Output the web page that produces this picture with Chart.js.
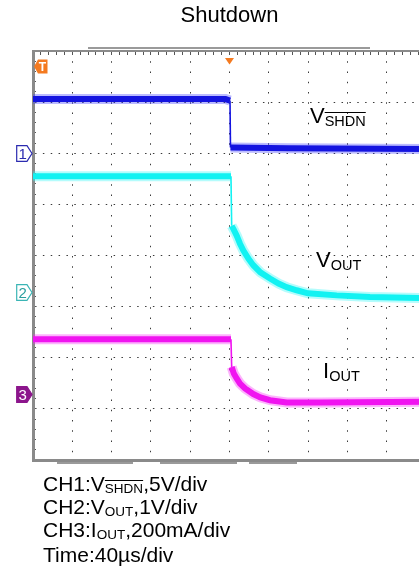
<!DOCTYPE html>
<html>
<head>
<meta charset="utf-8">
<script src="https://cdn.jsdelivr.net/npm/chart.js@4.4.1/dist/chart.umd.min.js"></script>
<style>
  html, body { margin: 0; padding: 0; background: #fff; overflow: hidden; }
  body { width: 419px; height: 572px; position: relative; font-family: "Liberation Sans", Arial, sans-serif; color: #000; }
  #wrap { position: absolute; left: 0; top: 0; width: 460px; height: 470px; }
  .lbl { position: absolute; font-size: 22px; line-height: 22px; white-space: nowrap; }
  .lbl sub { font-size: 14.5px; line-height: 0; vertical-align: baseline; position: relative; top: 2.5px; }
  .ov { text-decoration: overline; }
  #notes { position: absolute; left: 43px; top: 472px; font-size: 21px; line-height: 23px; white-space: nowrap; }
  #notes sub { font-size: 13.5px; line-height: 0; vertical-align: baseline; position: relative; top: 2px; }
  #notes .last { margin-top: 2px; }
  .mk { position: absolute; }
  .bar { position: absolute; background: #9a9a9a; }
</style>
</head>
<body>
<div id="wrap"><canvas id="scope" width="460" height="470"></canvas></div>

<div class="bar" style="left:88px;top:47px;width:282px;height:2px"></div>
<div class="bar" style="left:57px;top:462px;width:76px;height:2px"></div>
<div class="bar" style="left:160px;top:462px;width:77px;height:2px"></div>
<div class="bar" style="left:249px;top:462px;width:48px;height:2px"></div>

<div class="lbl" style="left:310px;top:105px">V<sub class="ov">SHDN</sub></div>
<div class="lbl" style="left:316px;top:249px">V<sub>OUT</sub></div>
<div class="lbl" style="left:323px;top:360px">I<sub>OUT</sub></div>

<div id="notes">
  <div>CH1:V<sub class="ov">SHDN</sub>,5V/div</div>
  <div>CH2:V<sub>OUT</sub>,1V/div</div>
  <div>CH3:I<sub>OUT</sub>,200mA/div</div>
  <div class="last">Time:40µs/div</div>
</div>

<script>
// time in µs relative to the trigger, 40 µs/div
const timeTicksUs = [-200, 200];
const timePerDivUs = 40;

// CH1: V_SHDN, 5 V/div
const ch1TimeUs = [-200, -4, 0.5, 1, 60, 200];
const ch1Volts = [5.3, 5.3, 5.15, 0.57, 0.5, 0.42];
const ch1PerDiv = 5;
const ch1ZeroDiv = 2;

// CH2: V_OUT, 1 V/div
const ch2TimeUs = [-200, 1.5, 2.2, 3.9, 7.3, 10.7, 14, 19.2, 24.2, 31.4, 41.2, 49.9, 58.2, 68.4, 79.9, 109.1, 143, 192.9, 200];
const ch2Volts = [2.27, 2.27, 1.3, 1.24, 1.11, 0.95, 0.82, 0.66, 0.53, 0.39, 0.27, 0.17, 0.10, 0.04, -0.02, -0.06, -0.09, -0.11, -0.11];
const ch2PerDiv = 1;
const ch2ZeroDiv = -0.72;

// CH3: I_OUT, 200 mA/div
const ch3TimeUs = [-200, 1.5, 2.2, 4.4, 7.3, 10.7, 15.8, 24.2, 31.4, 41.2, 58.2, 92, 200];
const ch3mA = [216, 216, 108, 82, 63, 43, 24, 2, -11, -22, -31, -31, -28];
const ch3PerDiv = 200;
const ch3ZeroDiv = -2.72;

const divRange = [-4, 4];

function toDiv(times, vals, perDiv, zero) {
  return times.map((t, i) => ({ x: t, y: zero + vals[i] / perDiv }));
}

const isEdge = ctx => Math.abs(ctx.p1.parsed.x - ctx.p0.parsed.x) < 1;

// fast edges are drawn thin, like the scope does
function trace(data, color, width) {
  return {
    data, borderColor: color, borderWidth: width, pointRadius: 0,
    tension: 0, fill: false,
    segment: { borderWidth: ctx => isEdge(ctx) ? 1.6 : undefined }
  };
}

// faint noise fringe around each trace, left out on the fast edges
function fringe(data, color, width) {
  return {
    data, borderColor: color, borderWidth: width, pointRadius: 0,
    tension: 0, fill: false,
    segment: { borderColor: ctx => isEdge(ctx) ? 'rgba(0,0,0,0)' : undefined }
  };
}

const ch1 = toDiv(ch1TimeUs, ch1Volts, ch1PerDiv, ch1ZeroDiv);
const ch2 = toDiv(ch2TimeUs, ch2Volts, ch2PerDiv, ch2ZeroDiv);
const ch3 = toDiv(ch3TimeUs, ch3mA, ch3PerDiv, ch3ZeroDiv);

const hidden = { display: false };
const frameGray = '#8a8a8a';
const dotGray = '#3a3a3a';

const chart = new Chart(document.getElementById('scope'), {
  type: 'line',
  data: {
    datasets: [
      trace(ch1, '#1414e0', 6),
      fringe(ch1, 'rgba(60,60,255,0.35)', 10),
      trace(ch2, '#12f2f2', 6),
      fringe(ch2, 'rgba(40,245,245,0.35)', 10),
      trace(ch3, '#f014f0', 6),
      fringe(ch3, 'rgba(245,40,245,0.35)', 10)
    ]
  },
  options: {
    responsive: false,
    animation: false,
    events: [],
    layout: { padding: { left: 33, right: 34, top: 0, bottom: 10 } },
    plugins: {
      legend: hidden,
      tooltip: { enabled: false },
      title: {
        display: true,
        text: 'Shutdown',
        color: '#000',
        font: { family: '"Liberation Sans", Arial, sans-serif', size: 22, weight: 'normal' },
        padding: { top: 3, bottom: 21.6 }
      }
    },
    scales: {
      x: {
        type: 'linear', position: 'bottom',
        min: timeTicksUs[0], max: timeTicksUs[1],
        ticks: { display: false, stepSize: timePerDivUs },
        grid: { color: dotGray, lineWidth: 1, drawTicks: false },
        border: { color: frameGray, width: 3, dash: [1.5, 8.75] }
      },
      xTop: {
        type: 'linear', position: 'top',
        min: timeTicksUs[0], max: timeTicksUs[1],
        ticks: { display: false, stepSize: timePerDivUs / 5 },
        grid: { color: '#555', lineWidth: 1, drawTicks: false },
        border: { color: frameGray, width: 2, dash: [3, 404, 3, 1000] }
      },
      y: {
        type: 'linear', position: 'left',
        min: divRange[0], max: divRange[1],
        ticks: { display: false, stepSize: 1 },
        grid: { color: dotGray, lineWidth: 1, drawTicks: false },
        border: { color: frameGray, width: 3, dash: [1.5, 6.36] }
      },
      yMinor: {
        type: 'linear', position: 'left',
        min: divRange[0], max: divRange[1],
        ticks: { display: false, stepSize: 0.2 },
        grid: { color: '#555', lineWidth: 1, drawTicks: false },
        border: { display: false, dash: [3, 1000] }
      }
    }
  }
});

// channel ground markers and trigger markers, placed from the chart's own scales
const area = chart.chartArea;
const yScale = chart.scales.y;
const xScale = chart.scales.x;

function marker(num, zeroDiv, stroke, fill, textColor) {
  const y = yScale.getPixelForValue(zeroDiv);
  const el = document.createElement('div');
  el.className = 'mk';
  el.style.left = (area.left - 17) + 'px';
  el.style.top = (y - 8.5) + 'px';
  el.innerHTML = `<svg width="17" height="17" viewBox="0 0 17 17">
    <path d="M0.7 0.7 H11 L16 8.5 L11 16.3 H0.7 Z" fill="${fill}" stroke="${stroke}" stroke-width="1.2"/>
    <text x="6.6" y="14.2" font-size="15" font-family="Liberation Sans, Arial" text-anchor="middle" fill="${textColor}">${num}</text>
  </svg>`;
  document.body.appendChild(el);
}
marker('1', ch1ZeroDiv, '#2b2bb0', '#fff', '#2b2bb0');
marker('2', ch2ZeroDiv, '#3bb5b5', '#fff', '#2a9f9f');
marker('3', ch3ZeroDiv, '#8c168c', '#8c168c', '#fff');

const trig = document.createElement('div');
trig.className = 'mk';
trig.style.left = (xScale.getPixelForValue(0) - 4.5) + 'px';
trig.style.top = (area.top) + 'px';
trig.innerHTML = '<svg width="9" height="7"><path d="M0 0 H9 L4.5 6.5 Z" fill="#f47a20"/></svg>';
document.body.appendChild(trig);

const tMark = document.createElement('div');
tMark.className = 'mk';
tMark.style.left = (area.left + 1) + 'px';
tMark.style.top = (area.top + 8) + 'px';
tMark.innerHTML = `<svg width="14" height="15" viewBox="0 0 14 15">
  <path d="M0 7.5 L4 0.5 H13.5 V14.5 H4 Z" fill="#f47a20"/>
  <text x="8.3" y="12.3" font-size="12" font-weight="bold" font-family="Liberation Sans, Arial" text-anchor="middle" fill="#fff">T</text>
</svg>`;
document.body.appendChild(tMark);
</script>
</body>
</html>
